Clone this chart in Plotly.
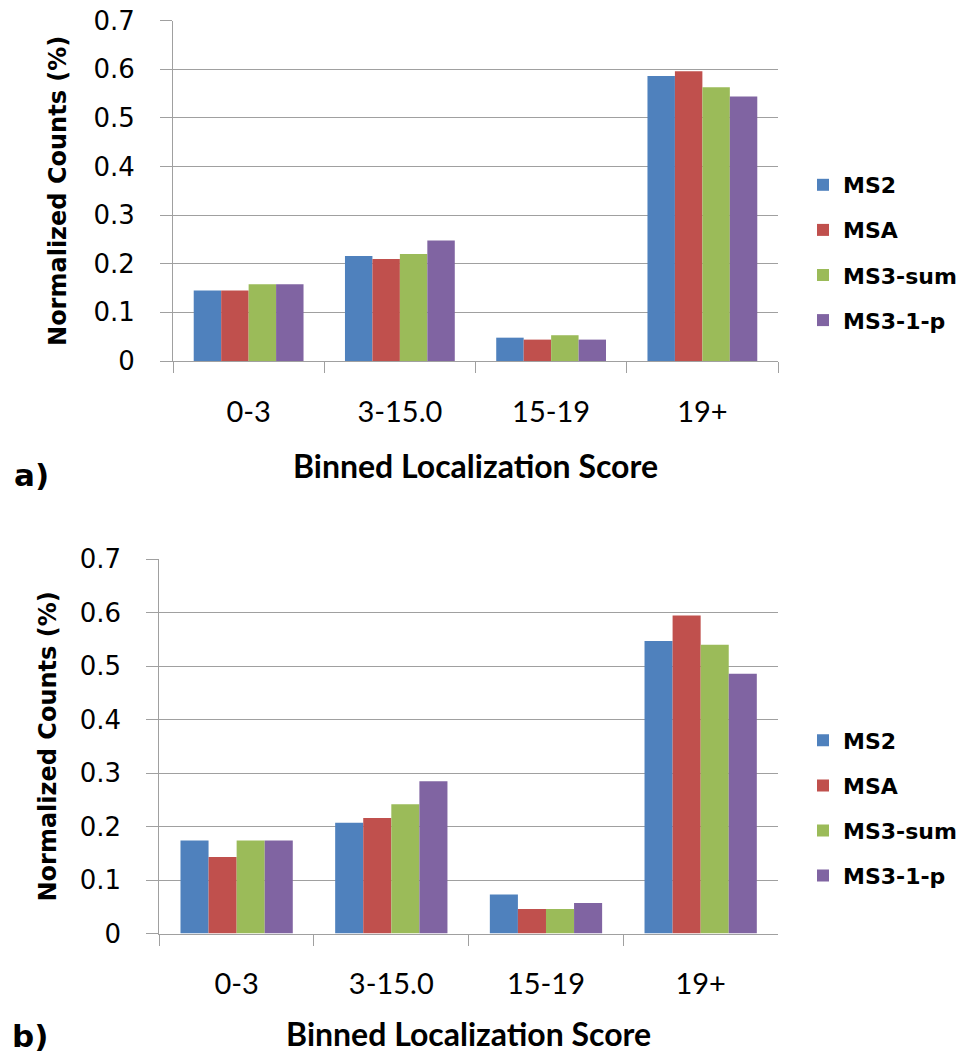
import plotly.graph_objects as go

# ---------------- data ----------------
categories = ["0-3", "3-15.0", "15-19", "19+"]
series_names = ["MS2", "MSA", "MS3-sum", "MS3-1-p"]
colors = ["#4F81BD", "#C0504D", "#9BBB59", "#8064A2"]

# panel a)
a_ms2 = [0.145, 0.216, 0.048, 0.586]
a_msa = [0.145, 0.210, 0.044, 0.596]
a_ms3_sum = [0.158, 0.220, 0.053, 0.563]
a_ms3_1p = [0.158, 0.248, 0.044, 0.544]

# panel b)
b_ms2 = [0.174, 0.207, 0.073, 0.547]
b_msa = [0.143, 0.216, 0.046, 0.595]
b_ms3_sum = [0.174, 0.242, 0.046, 0.540]
b_ms3_1p = [0.174, 0.285, 0.057, 0.486]

y_tickvals = [0, 0.1, 0.2, 0.3, 0.4, 0.5, 0.6, 0.7]
y_ticktext = ["0", "0.1", "0.2", "0.3", "0.4", "0.5", "0.6", "0.7"]

x_title = "Binned Localization Score"
y_title = "Normalized Counts (%)"
panel_labels = ["a)", "b)"]

# ---------------- figure ----------------
W, H = 964, 1053
GRID = "#a0a0a0"

fig = go.Figure()

panel_a = [a_ms2, a_msa, a_ms3_sum, a_ms3_1p]
panel_b = [b_ms2, b_msa, b_ms3_sum, b_ms3_1p]

for i, (name, vals) in enumerate(zip(series_names, panel_a)):
    fig.add_trace(go.Bar(
        x=categories, y=vals, name=name, marker=dict(color=colors[i], line=dict(width=0)),
        xaxis="x", yaxis="y", legend="legend", legendgroup="a" + name,
    ))
for i, (name, vals) in enumerate(zip(series_names, panel_b)):
    fig.add_trace(go.Bar(
        x=categories, y=vals, name=name, marker=dict(color=colors[i], line=dict(width=0)),
        xaxis="x2", yaxis="y2", legend="legend2", legendgroup="b" + name,
    ))


def px_x(p):
    return p / W


def px_y(p):
    return 1 - p / H


cat_font = dict(family="Lato", size=29, color="black")
tick_font = dict(family="DejaVu Sans", size=26, color="black")
ytitle_font = dict(family="DejaVu Sans", size=24, color="black", weight="bold")
xtitle_font = dict(family="Lato", size=32, color="black", weight="bold")
legend_font = dict(family="DejaVu Sans", size=22, color="black", weight="bold")
panel_font = dict(family="DejaVu Sans", size=31, color="black", weight="bold")


def xaxis_cfg(domain, anchor, standoff):
    return dict(
        domain=domain, anchor=anchor, type="category", automargin=False,
        showline=True, linecolor=GRID, linewidth=1,
        ticks="outside", tickson="boundaries", ticklen=11, tickcolor=GRID, tickwidth=1,
        showgrid=False, tickfont=cat_font, ticklabelstandoff=25,
        title=dict(text=x_title, font=xtitle_font, standoff=standoff),
    )


def yaxis_cfg(domain, anchor, standoff):
    return dict(
        domain=domain, anchor=anchor, range=[0, 0.7], automargin=False,
        tickvals=y_tickvals, ticktext=y_ticktext,
        showgrid=True, gridcolor=GRID, gridwidth=1, zeroline=False,
        showline=True, linecolor=GRID, linewidth=1,
        ticks="outside", ticklen=12, tickcolor=GRID, tickwidth=1,
        tickfont=tick_font, ticklabelstandoff=20,
        title=dict(text=y_title, font=ytitle_font, standoff=standoff),
    )


fig.update_layout(
    width=W, height=H,
    margin=dict(l=0, r=0, t=0, b=0, autoexpand=False),
    paper_bgcolor="white", plot_bgcolor="white",
    barmode="group", bargap=0.274, bargroupgap=0,
    xaxis=xaxis_cfg([px_x(173), px_x(778)], "y", 28),
    yaxis=yaxis_cfg([px_y(361), px_y(20.7)], "x", 20),
    xaxis2=xaxis_cfg([px_x(159.3), px_x(778)], "y2", 29),
    yaxis2=yaxis_cfg([px_y(933.5), px_y(559.3)], "x2", 16),
    legend=dict(
        x=px_x(803), y=px_y(252.5), xanchor="left", yanchor="middle",
        font=legend_font, tracegroupgap=13.5, bgcolor="rgba(0,0,0,0)",
    ),
    legend2=dict(
        x=px_x(803), y=px_y(808), xanchor="left", yanchor="middle",
        font=legend_font, tracegroupgap=13.5, bgcolor="rgba(0,0,0,0)",
    ),
    annotations=[
        dict(text=panel_labels[0], x=px_x(12), y=px_y(475), xref="paper", yref="paper",
             xanchor="left", yanchor="middle", showarrow=False, font=panel_font),
        dict(text=panel_labels[1], x=px_x(10), y=px_y(1036), xref="paper", yref="paper",
             xanchor="left", yanchor="middle", showarrow=False, font=panel_font),
    ],
    showlegend=True,
)

fig.write_html("out.html")
